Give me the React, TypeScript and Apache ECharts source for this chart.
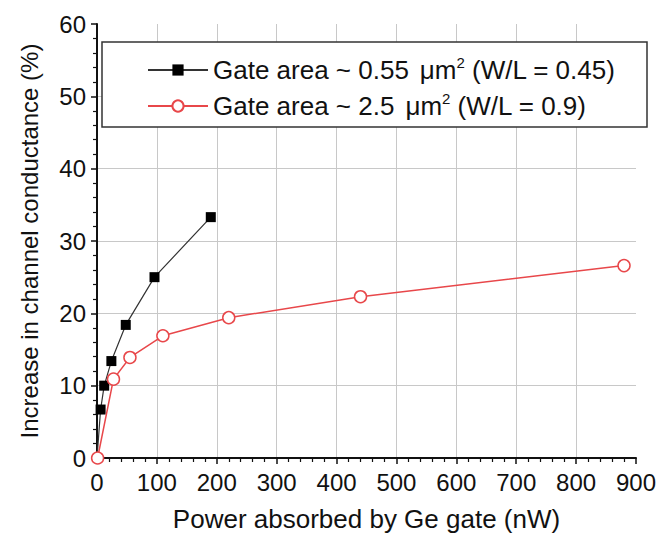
import React, { useEffect, useRef } from "react";
import * as echarts from "echarts";

const seriesNames = [
  "Gate area ~ 0.55 μm2 (W/L = 0.45)",
  "Gate area ~ 2.5 μm2 (W/L = 0.9)",
];
const legendRich = [
  "Gate area ~ 0.55{mu|μ}m{sup|2} (W/L = 0.45)",
  "Gate area ~ 2.5{mu|μ}m{sup|2} (W/L = 0.9)",
];

const smallGatePower = [0, 6, 12, 24, 48, 96, 190];
const smallGateIncrease = [0, 6.7, 10.0, 13.4, 18.4, 25.0, 33.3];

const largeGatePower = [1, 27.5, 55, 110, 220, 440, 880];
const largeGateIncrease = [0, 10.9, 13.9, 16.9, 19.4, 22.3, 26.6];

const xTitle = "Power absorbed by Ge gate (nW)";
const yTitle = "Increase in channel conductance (%)";

const FONT = "'Liberation Sans', Arial, Helvetica, sans-serif";

export default function App() {
  const ref = useRef<HTMLDivElement>(null);

  useEffect(() => {
    document.body.style.margin = "0";
    const chart = echarts.init(ref.current!, null, { renderer: "svg" });

    const smallData = smallGatePower.map((x, i) =>
      i === 0 ? { value: [x, smallGateIncrease[i]], symbol: "none" } : [x, smallGateIncrease[i]]
    );
    const largeData = largeGatePower.map((x, i) => [x, largeGateIncrease[i]]);

    chart.setOption({
      animation: false,
      backgroundColor: "#ffffff",
      textStyle: { fontFamily: FONT },
      grid: { left: 97, right: 33, top: 24, bottom: 79, containLabel: false },
      xAxis: {
        type: "value",
        min: 0,
        max: 900,
        interval: 100,
        name: xTitle,
        nameLocation: "middle",
        nameGap: 48,
        nameTextStyle: { fontSize: 26, color: "#111", fontFamily: FONT },
        axisLine: { show: true, onZero: false, lineStyle: { color: "#111", width: 2 } },
        axisTick: { show: true, length: 6, lineStyle: { color: "#111", width: 1.5 } },
        minorTick: { show: true, splitNumber: 5, length: 4, lineStyle: { color: "#111", width: 1.2 } },
        axisLabel: { fontSize: 24, color: "#111", margin: 12, fontFamily: FONT },
        splitLine: { show: true, showMinLine: false, showMaxLine: false, lineStyle: { color: "#c8c8c8", width: 1 } },
      },
      yAxis: {
        type: "value",
        min: 0,
        max: 60,
        interval: 10,
        name: yTitle,
        nameLocation: "middle",
        nameGap: 56,
        nameTextStyle: { fontSize: 24, color: "#111", fontFamily: FONT },
        axisLine: { show: true, onZero: false, lineStyle: { color: "#111", width: 2 } },
        axisTick: { show: true, length: 6, lineStyle: { color: "#111", width: 1.5 } },
        minorTick: { show: true, splitNumber: 5, length: 4, lineStyle: { color: "#111", width: 1.2 } },
        axisLabel: { fontSize: 24, color: "#111", margin: 11, fontFamily: FONT },
        splitLine: { show: true, showMinLine: false, showMaxLine: false, lineStyle: { color: "#c8c8c8", width: 1 } },
      },
      graphic: [
        {
          type: "rect",
          z: 3,
          shape: { x: 102, y: 42, width: 545, height: 85 },
          style: { fill: "#ffffff", stroke: "#333333", lineWidth: 1.5 },
        },
      ],
      legend: {
        z: 10,
        orient: "vertical",
        left: 147,
        top: 55,
        itemWidth: 60,
        itemHeight: 14,
        itemGap: 6,
        padding: 0,
        data: seriesNames,
        formatter: (name: string) => legendRich[seriesNames.indexOf(name)],
        textStyle: {
          fontSize: 26,
          color: "#111",
          fontFamily: FONT,
          lineHeight: 30,
          rich: {
            mu: { fontSize: 26, lineHeight: 30, padding: [0, 0, 0, 11], color: "#111", fontFamily: FONT },
            sup: { fontSize: 15, verticalAlign: "top", lineHeight: 15, padding: [0, 0, 12, 0], color: "#111", fontFamily: FONT },
          },
        },
      },
      series: [
        {
          name: seriesNames[0],
          type: "line",
          data: smallData,
          symbol: "rect",
          symbolSize: 10,
          itemStyle: { color: "#000000" },
          lineStyle: { color: "#333333", width: 1.2 },
          z: 3,
        },
        {
          name: seriesNames[1],
          type: "line",
          data: largeData,
          symbol: "circle",
          symbolSize: 12,
          showAllSymbol: true,
          itemStyle: { color: "#ffffff", borderColor: "#e8474a", borderWidth: 1.5 },
          lineStyle: { color: "#e8474a", width: 1.5 },
          z: 4,
        },
      ],
    });

    return () => chart.dispose();
  }, []);

  return <div ref={ref} style={{ width: 669, height: 537 }} />;
}
